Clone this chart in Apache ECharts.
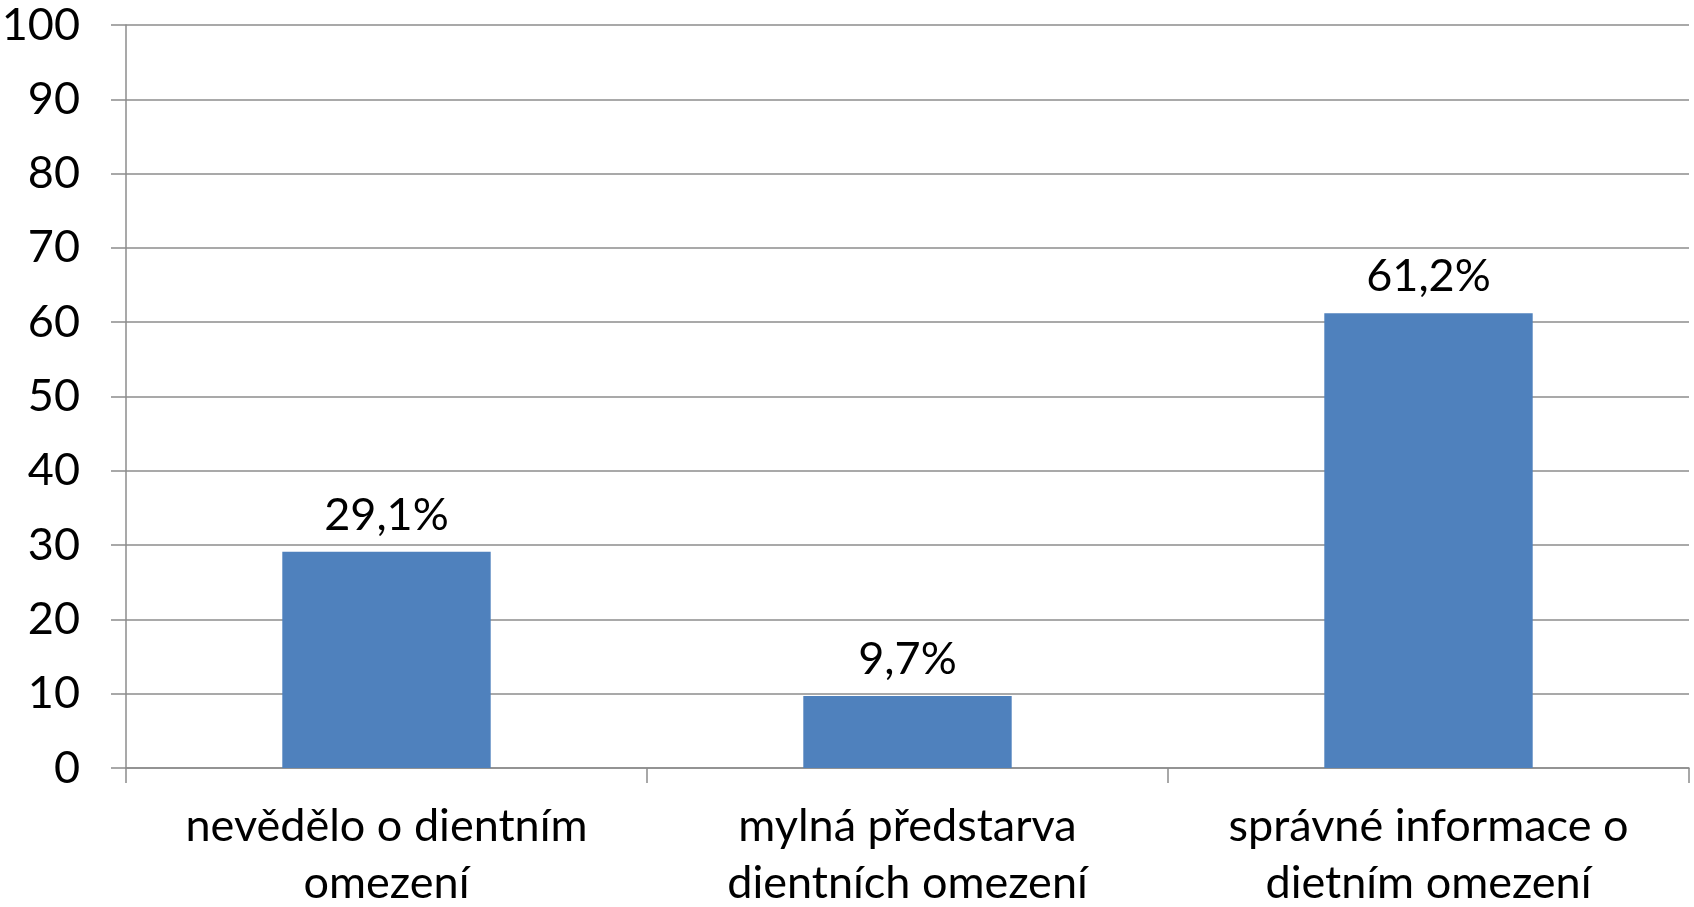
<!DOCTYPE html>
<html>
<head>
<meta charset="utf-8">
<script src="https://cdn.jsdelivr.net/npm/echarts@6/dist/echarts.min.js"></script>
<style>
html,body{margin:0;padding:0;background:#fff;}
#chart{width:1694px;height:907px;}
</style>
</head>
<body>
<div id="chart"></div>
<script>
const categories = ["nevědělo o dientním\nomezení", "mylná předstarva\ndientních omezení", "správné informace o\ndietním omezení"];
const values = [29.1, 9.7, 61.2];
const valueLabels = ["29,1%", "9,7%", "61,2%"];

const FONT = 'Lato';
const chart = echarts.init(document.getElementById('chart'));
chart.setOption({
  animation: false,
  backgroundColor: '#ffffff',
  grid: {left: 126, right: 5, top: 25, bottom: 139, containLabel: false, outerBoundsMode: 'none'},
  xAxis: {
    type: 'category',
    data: categories,
    boundaryGap: true,
    axisLine: {lineStyle: {color: '#8c8c8c', width: 1.5}},
    axisTick: {show: true, length: 15, alignWithLabel: false, lineStyle: {color: '#8c8c8c', width: 1.5}},
    axisLabel: {color: '#000', fontFamily: FONT, fontSize: 45, lineHeight: 57, margin: 30, interval: 0}
  },
  yAxis: {
    type: 'value',
    min: 0, max: 100, interval: 10,
    axisLine: {show: true, lineStyle: {color: '#8c8c8c', width: 1.5}},
    axisTick: {show: true, length: 15, lineStyle: {color: '#8c8c8c', width: 1.5}},
    splitLine: {show: true, lineStyle: {color: '#8c8c8c', width: 1.5}},
    axisLabel: {color: '#000', fontFamily: FONT, fontSize: 45, margin: 46}
  },
  series: [{
    type: 'bar',
    data: values,
    barWidth: '40%',
    itemStyle: {color: '#4F81BD'},
    label: {
      show: true, position: 'top', distance: 14,
      color: '#000', fontFamily: FONT, fontSize: 45,
      formatter: p => valueLabels[p.dataIndex]
    }
  }]
});
</script>
</body>
</html>
